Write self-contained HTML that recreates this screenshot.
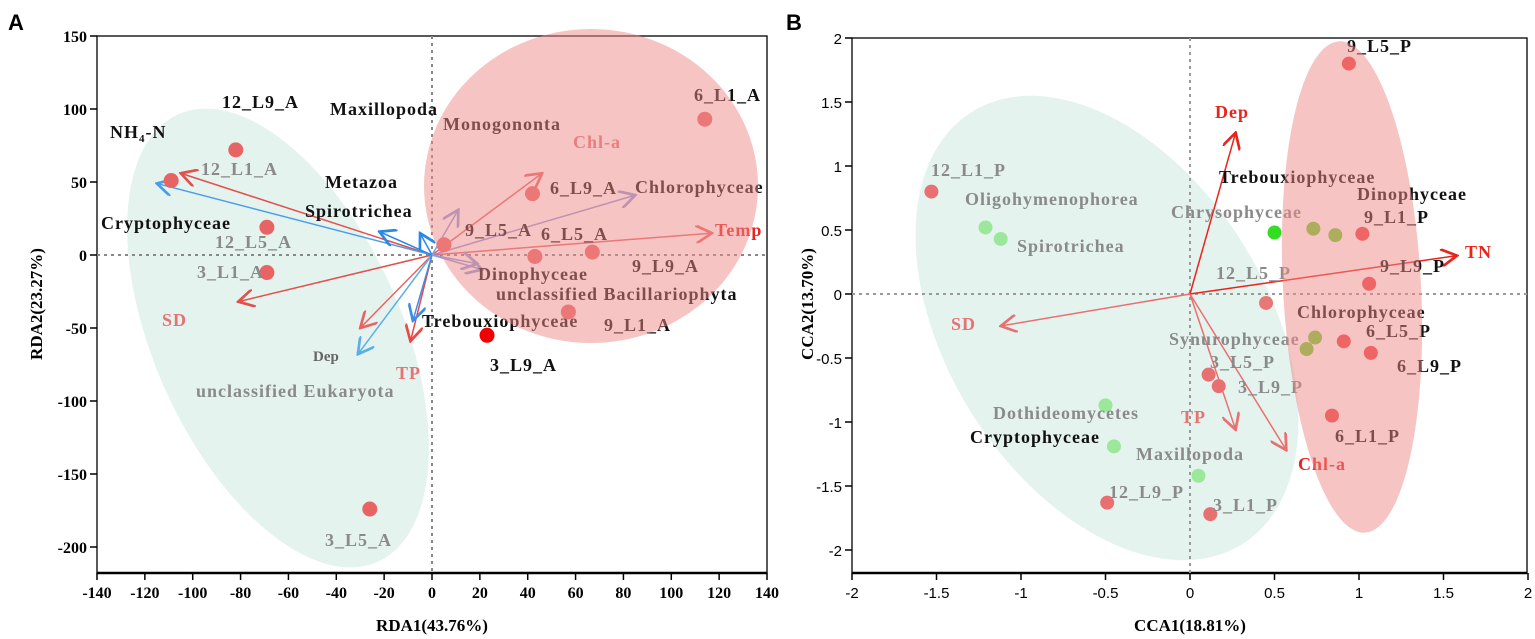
<!DOCTYPE html>
<html><head><meta charset="utf-8"><style>
html,body{margin:0;padding:0;background:#fff;}
svg{display:block;}
.s{font-family:"Liberation Serif",serif;font-weight:bold;font-size:18px;letter-spacing:1px;}
.ti{font-family:"Liberation Serif",serif;font-weight:bold;font-size:17px;}
.t{font-family:"Liberation Serif",serif;font-weight:bold;font-size:16px;}
.n{font-family:"Liberation Sans",sans-serif;font-size:15px;}
</style></head><body>
<svg id="c" width="1535" height="639" viewBox="0 0 1535 639" xmlns="http://www.w3.org/2000/svg">
<defs>
<marker id="m" viewBox="0 0 10 10" refX="9" refY="5" markerWidth="18" markerHeight="18" markerUnits="userSpaceOnUse" orient="auto"><path d="M0,0 L9,5 L0,10" fill="none" stroke="context-stroke" stroke-width="1.5"/></marker>
</defs>
<g id="A"></g>
<g id="B"></g>
</svg>
<script>
// ---------- Panel A data ----------
const aSiteNames=["12_L9_A","12_L1_A","12_L5_A","3_L1_A","3_L5_A","9_L5_A","6_L9_A","6_L5_A","9_L9_A","9_L1_A","3_L9_A","6_L1_A"];
const aSiteX=[-82,-109,-69,-69,-26,5,42,43,67,57,23,114];
const aSiteY=[72,51,19,-12,-174,7,42,-1,2,-39,-55,93];
const aSiteCol=["#e86464","#e86464","#e86464","#e86464","#e86464","#e86464","#e86464","#e86464","#e86464","#e86464","#f00000","#e86464"];
const aArrowNames=["NH4-N","SD","TP-env","TP","Temp","Chl-a","Cryptophyceae","Dep","unclassified-eukaryota","Metazoa","Spirotrichea","Chlorophyceae","Monogononta","Dinophyceae","Bacillariophyta"];
const aArrowX=[-105,-81,-30,-9,117,46,-115,-31,-8,-22,-5,85,11,21,19];
const aArrowY=[56,-32,-50,-59,15,56,49,-68,-45,16,15,41,31,-10,-6];
const aArrowCol=["#e0504c","#e0504c","#e86464","#e84848","#e86464","#e86464","#4a9ee8","#5aaeea","#3a8ee8","#2a88e8","#2a88e8","#8c9ad8","#8c9ad8","#8c9ad8","#8c9ad8"];
const aXTicks=[-140,-120,-100,-80,-60,-40,-20,0,20,40,60,80,100,120,140];
const aYTicks=[150,100,50,0,-50,-100,-150,-200];
// ---------- Panel B data ----------
const bSiteNames=["9_L5_P","12_L1_P","9_L1_P","9_L9_P","12_L5_P","6_L5_P","6_L9_P","3_L5_P","3_L9_P","6_L1_P","12_L9_P","3_L1_P"];
const bSiteX=[0.94,-1.53,1.02,1.06,0.45,0.91,1.07,0.11,0.17,0.84,-0.49,0.12];
const bSiteY=[1.80,0.80,0.47,0.08,-0.07,-0.37,-0.46,-0.63,-0.72,-0.95,-1.63,-1.72];
const bSiteCol=["#ee4040","#e87070","#ee4040","#ee4040","#e87878","#ee4040","#ee4040","#e87070","#e87070","#ee4040","#e87070","#e87070"];
const bSpecNames=["Oligohymenophorea","Spirotrichea","Trebouxiophyceae","Chrysophyceae","Dinophyceae","Chlorophyceae","Synurophyceae","Dothideomycetes","Cryptophyceae","Maxillopoda"];
const bSpecX=[-1.21,-1.12,0.50,0.73,0.86,0.74,0.69,-0.50,-0.45,0.05];
const bSpecY=[0.52,0.43,0.48,0.51,0.46,-0.34,-0.43,-0.87,-1.19,-1.42];
const bSpecCol=["#9be89b","#9be89b","#33dd22","#6cd030","#6cd030","#6cd030","#6cd030","#9be89b","#9be89b","#9be89b"];
const bArrowNames=["Dep","TN","SD","TP","Chl-a"];
const bArrowX=[0.27,1.58,-1.12,0.27,0.57];
const bArrowY=[1.26,0.30,-0.25,-1.06,-1.22];
const bArrowCol=["#e8241c","#e8241c","#e87070","#e87070","#e87070"];
const bTicks=[-2,-1.5,-1,-0.5,0,0.5,1,1.5,2];

const NS="http://www.w3.org/2000/svg";
function mk(p,tag,at){const e=document.createElementNS(NS,tag);for(const k in at)e.setAttribute(k,at[k]);p.appendChild(e);return e;}

// axis functions
const aX=v=>432+v*(335/140), aY=v=>255-v*1.46;
const bX=v=>1190+v*169, bY=v=>294-v*128;

const A=document.getElementById('A'), B=document.getElementById('B');

function frame(g,x0,x1,y0,y1,xs,ys,xt,yt,xfmt,cls){
  let r=mk(g,'rect',{x:x0,y:y0,width:x1-x0,height:y1-y0,fill:'none',stroke:'#000','stroke-width':1.3});
  
  
  let l=mk(g,'line',{x1:x0,y1:y1,x2:x1,y2:y1,stroke:'#000','stroke-width':2.5});
  
  
  xt.forEach(v=>{const x=xs(v);mk(g,'line',{x1:x,y1:y1,x2:x,y2:y1+7,stroke:'#000','stroke-width':1.5});
    const t=mk(g,'text',{x:x,y:y1+25,'text-anchor':'middle',class:cls});t.textContent=xfmt(v);
    
    });
  yt.forEach(v=>{const y=ys(v);mk(g,'line',{x1:x0-7,y1:y,x2:x0,y2:y,stroke:'#000','stroke-width':1.5});
    const t=mk(g,'text',{x:x0-10,y:y+6,'text-anchor':'end',class:cls});t.textContent=xfmt(v);
    
    });
}
frame(A,97,767,36,573,aX,aY,aXTicks,aYTicks,v=>String(v),'t');
frame(B,852,1527,38,573,bX,bY,bTicks,bTicks,v=>String(v),'n');

function arrow(g,x1,y1,x2,y2,c,w){const l=mk(g,'line',{x1:x1,y1:y1,x2:x2,y2:y2,stroke:c,'stroke-width':w||1.5,'marker-end':'url(#m)'});return l;}

// teal ellipse (behind)
let e1=mk(A,'ellipse',{cx:278,cy:338,rx:245,ry:124,transform:'rotate(66 278 338)',fill:'#e5f3ef'});


let e2=mk(B,'ellipse',{cx:1107,cy:328,rx:255,ry:160,transform:'rotate(58 1107 328)',fill:'#e5f3ef'});


// dashed zero lines
mk(A,'line',{x1:aX(0),y1:36,x2:aX(0),y2:573,stroke:'#888','stroke-width':2,'stroke-dasharray':'3,4'});
mk(A,'line',{x1:97,y1:aY(0),x2:767,y2:aY(0),stroke:'#888','stroke-width':2,'stroke-dasharray':'3,4'});
mk(B,'line',{x1:bX(0),y1:38,x2:bX(0),y2:573,stroke:'#999','stroke-width':2,'stroke-dasharray':'3,4'});
mk(B,'line',{x1:852,y1:bY(0),x2:1527,y2:bY(0),stroke:'#999','stroke-width':2,'stroke-dasharray':'3,4'});

// panel A arrows & points
aArrowX.forEach((v,i)=>{const l=arrow(A,aX(0),aY(0),aX(v),aY(aArrowY[i]),aArrowCol[i]);
  
  });
aSiteX.forEach((v,i)=>{const c=mk(A,'circle',{cx:aX(v),cy:aY(aSiteY[i]),r:7.5,fill:aSiteCol[i]});
  
  });
// panel B arrows & points
bArrowX.forEach((v,i)=>{const l=arrow(B,bX(0),bY(0),bX(v),bY(bArrowY[i]),bArrowCol[i]);
  
  });
bSiteX.forEach((v,i)=>{const c=mk(B,'circle',{cx:bX(v),cy:bY(bSiteY[i]),r:7,fill:bSiteCol[i]});
  
  });
bSpecX.forEach((v,i)=>{const c=mk(B,'circle',{cx:bX(v),cy:bY(bSpecY[i]),r:7,fill:bSpecCol[i]});
  
  });

function lab(g,x,y,s,c,sz){const t=mk(g,'text',{x:x,y:y,fill:c,class:'s'});if(sz)t.setAttribute('style','font-size:'+sz+'px;letter-spacing:0');t.textContent=s;
  
  return t;}
const K='#111',G='#8a8a8a',S='#e57373',R='#e8241c';
// panel A labels
[[222,108,'12_L9_A',K],[330,115,'Maxillopoda',K],[443,130,'Monogononta',K],[694,101,'6_L1_A',K],[573,148,'Chl-a',S],
[201,175,'12_L1_A',G],[325,188,'Metazoa',K],[550,194,'6_L9_A',K],[635,193,'Chlorophyceae',K],[305,217,'Spirotrichea',K],
[101,229,'Cryptophyceae',K],[465,236,'9_L5_A',K],[541,240,'6_L5_A',K],[715,236,'Temp',R],[215,248,'12_L5_A',G],
[632,272,'9_L9_A',K],[197,278,'3_L1_A',G],[478,280,'Dinophyceae',K],[496,300,'unclassified Bacillariophyta',K],
[162,326,'SD',S],[422,327,'Trebouxiophyceae',K],[604,331,'9_L1_A',K],[490,371,'3_L9_A',K],[396,379,'TP',S],
[196,397,'unclassified Eukaryota',G],[325,546,'3_L5_A',G]].forEach(a=>lab(A,a[0],a[1],a[2],a[3]));
lab(A,313,361,'Dep','#666',15);
let nh=lab(A,110,138,'NH',K);const sub=mk(nh,'tspan',{dy:4,style:'font-size:11px'});sub.textContent='4';const rest=mk(nh,'tspan',{dy:-4});rest.textContent='-N';
// panel B labels
[[1347,52,'9_L5_P',K],[1215,118,'Dep',R],[931,176,'12_L1_P',G],[1219,183,'Trebouxiophyceae',K],[1357,200,'Dinophyceae',K],
[965,205,'Oligohymenophorea',G],[1171,218,'Chrysophyceae',G],[1364,223,'9_L1_P',K],[1017,252,'Spirotrichea',G],[1465,258,'TN',R],
[1216,279,'12_L5_P',G],[1380,272,'9_L9_P',K],[1297,318,'Chlorophyceae',K],[951,330,'SD',S],[1366,337,'6_L5_P',K],
[1169,345,'Synurophyceae',G],[1397,372,'6_L9_P',K],[1210,368,'3_L5_P',G],[1238,393,'3_L9_P',G],[993,419,'Dothideomycetes',G],
[1335,442,'6_L1_P',K],[1181,423,'TP',S],[970,443,'Cryptophyceae',K],[1298,470,'Chl-a',R],[1136,460,'Maxillopoda',G],
[1109,498,'12_L9_P',G],[1213,511,'3_L1_P',G]].forEach(a=>lab(B,a[0],a[1],a[2],a[3]));

// red ellipses on top (translucent)
let r1=mk(A,'ellipse',{cx:591,cy:186,rx:167,ry:157,fill:'#f08a8a','fill-opacity':0.5});


let r2=mk(B,'ellipse',{cx:1352,cy:287,rx:69,ry:246,transform:'rotate(-3 1352 287)',fill:'#f08a8a','fill-opacity':0.5});



// titles
function title(g,x,y,s,rot,cls,name){const t=mk(g,'text',{x:x,y:y,'text-anchor':'middle',class:cls});if(rot)t.setAttribute('transform','rotate(-90 '+x+' '+y+')');t.textContent=s;
  
  }
title(A,432,631,'RDA1(43.76%)',0,'ti','x-axis-title');
title(A,42,304,'RDA2(23.27%)',1,'ti','y-axis-title');
title(B,1190,631,'CCA1(18.81%)',0,'ti','x-axis-title');
title(B,813,304,'CCA2(13.70%)',1,'ti','y-axis-title');
const pa=mk(A,'text',{x:8,y:30,style:'font-family:"Liberation Sans",sans-serif;font-weight:bold;font-size:22px'});pa.textContent='A';


const pb=mk(B,'text',{x:786,y:30,style:'font-family:"Liberation Sans",sans-serif;font-weight:bold;font-size:22px'});pb.textContent='B';


</script>
</body></html>
